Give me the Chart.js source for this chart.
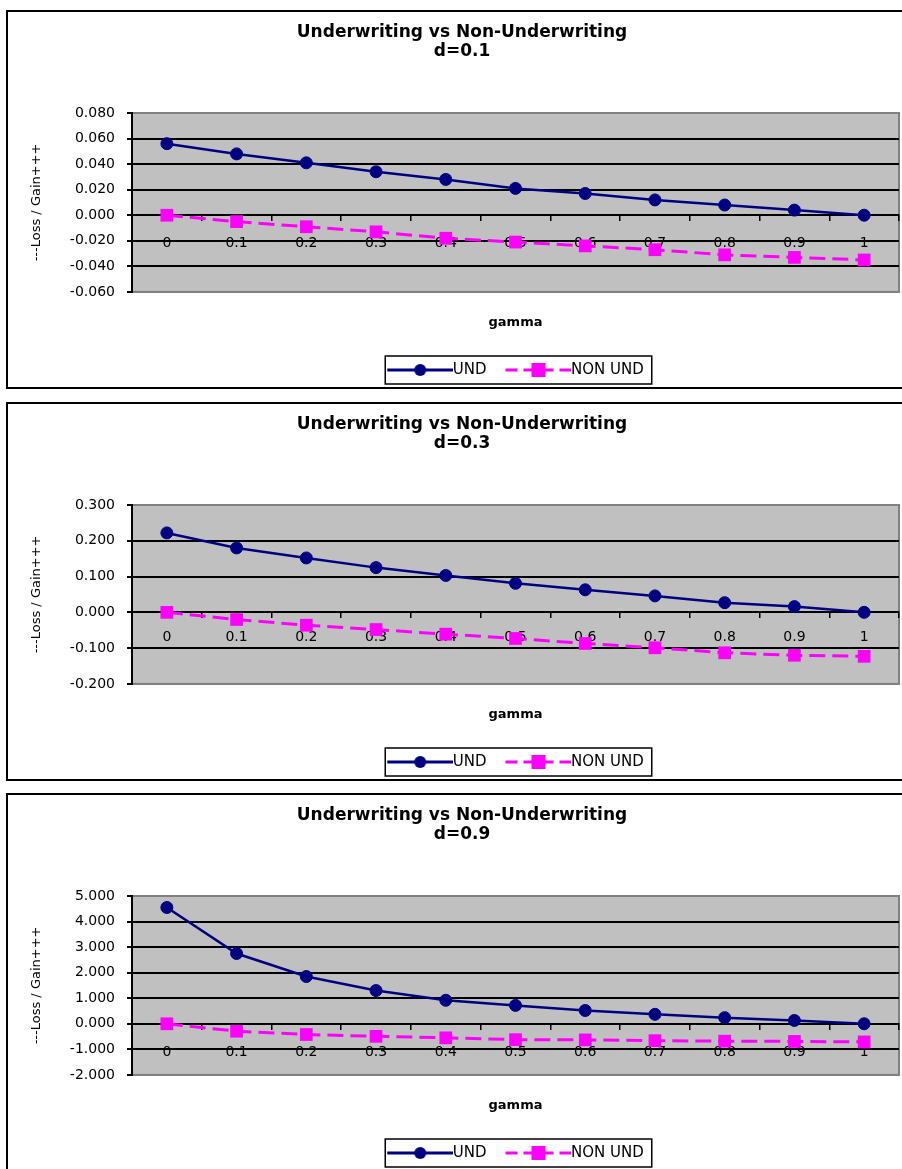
<!DOCTYPE html>
<html><head><meta charset="utf-8">
<script src="https://cdn.jsdelivr.net/npm/chart.js@4/dist/chart.umd.min.js"></script>
<style>
html,body{margin:0;padding:0;background:#fff;width:902px;height:1169px;overflow:hidden;}
.box{position:absolute;left:6px;width:914px;height:379px;border:2px solid #000;box-sizing:border-box;}
.wrap{position:absolute;left:0;top:0;width:910px;height:390px;}
</style></head><body>
<div class="box" style="top:10px"><div class="wrap"><canvas id="c1"></canvas></div></div>
<div class="box" style="top:402px"><div class="wrap"><canvas id="c2"></canvas></div></div>
<div class="box" style="top:793px"><div class="wrap"><canvas id="c3"></canvas></div></div>
<script>
// ---- data ----
const gammaLabels = ['0', '0.1', '0.2', '0.3', '0.4', '0.5', '0.6', '0.7', '0.8', '0.9', '1'];
const seriesNames = ['UND', 'NON UND'];
const chartTitle = 'Underwriting vs Non-Underwriting';
const dLabels = ['d=0.1', 'd=0.3', 'd=0.9'];
const xTitle = 'gamma';
const yTitle = '---Loss / Gain+++';

const undD01 = [0.056, 0.048, 0.041, 0.034, 0.028, 0.021, 0.017, 0.012, 0.008, 0.004, 0.000];
const nonD01 = [0.000, -0.005, -0.009, -0.013, -0.018, -0.021, -0.024, -0.027, -0.031, -0.033, -0.035];
const undD03 = [0.222, 0.180, 0.152, 0.125, 0.103, 0.081, 0.063, 0.046, 0.027, 0.016, 0.000];
const nonD03 = [0.000, -0.020, -0.036, -0.048, -0.061, -0.073, -0.087, -0.099, -0.113, -0.120, -0.123];
const undD09 = [4.55, 2.75, 1.85, 1.30, 0.92, 0.72, 0.52, 0.37, 0.24, 0.13, 0.00];
const nonD09 = [0.00, -0.29, -0.42, -0.49, -0.55, -0.62, -0.63, -0.66, -0.68, -0.69, -0.71];

const yRangeD01 = [-0.06, 0.08, 0.02];
const yRangeD03 = [-0.2, 0.3, 0.1];
const yRangeD09 = [-2, 5, 1];

// ---- styling helpers ----
Chart.defaults.font.family = "'DejaVu Sans', sans-serif";
Chart.defaults.color = '#000';

const UND_COLOR = '#000080';
const NON_COLOR = '#ff00ff';

function makeIcon(color, dash, marker) {
  const c = document.createElement('canvas');
  c.width = 74; c.height = 16;
  const g = c.getContext('2d');
  g.strokeStyle = color; g.lineWidth = 3; g.setLineDash(dash);
  g.beginPath(); g.moveTo(8, 8); g.lineTo(74, 8); g.stroke();
  g.setLineDash([]); g.fillStyle = color;
  if (marker === 'circle') { g.beginPath(); g.arc(41, 8, 6, 0, 2 * Math.PI); g.fill(); }
  else { g.fillRect(34, 1, 14, 14); }
  return c;
}
const legendIcons = [makeIcon(UND_COLOR, [], 'circle'), makeIcon(NON_COLOR, [12, 6], 'rect')];

const frame = {
  id: 'frame',
  beforeDraw(chart) {
    const {ctx, chartArea: a} = chart;
    ctx.save();
    ctx.fillStyle = '#c0c0c0';
    ctx.fillRect(a.left, a.top, a.right - a.left, a.bottom - a.top);
    ctx.strokeStyle = '#808080'; ctx.lineWidth = 2;
    ctx.strokeRect(a.left, a.top, a.right - a.left, a.bottom - a.top);
    ctx.restore();
  },
  afterDraw(chart) {
    const lg = chart.legend;
    if (!lg || !lg.legendHitBoxes || !lg.legendHitBoxes.length) return;
    let l = Infinity, r = -Infinity, t = Infinity, b = -Infinity;
    lg.legendHitBoxes.forEach(h => {
      l = Math.min(l, h.left); r = Math.max(r, h.left + h.width);
      t = Math.min(t, h.top); b = Math.max(b, h.top + h.height);
    });
    const ctx = chart.ctx;
    ctx.save();
    ctx.strokeStyle = '#000'; ctx.lineWidth = 1.5;
    ctx.strokeRect(l - 2, t - 6.5, r - l + 10, b - t + 13);
    ctx.restore();
  }
};

function makeChart(id, dLabel, und, non, yRange, xPad) {
  const [yMin, yMax, yStep] = yRange;
  return new Chart(document.getElementById(id), {
    type: 'line',
    data: {
      labels: gammaLabels,
      datasets: [
        { label: seriesNames[0], data: und, borderColor: UND_COLOR, backgroundColor: UND_COLOR,
          borderWidth: 2.5, pointStyle: 'circle', pointRadius: 6, pointBorderWidth: 1,
          pointBackgroundColor: UND_COLOR, pointBorderColor: UND_COLOR, tension: 0 },
        { label: seriesNames[1], data: non, borderColor: NON_COLOR, backgroundColor: NON_COLOR,
          borderWidth: 3, borderDash: [16, 7], pointStyle: 'rect', pointRadius: 9, pointBorderWidth: 0,
          pointBackgroundColor: NON_COLOR, pointBorderColor: NON_COLOR, tension: 0 }
      ]
    },
    options: {
      responsive: true, maintainAspectRatio: false, animation: false, devicePixelRatio: 1, events: [],
      layout: { padding: { left: 17, right: 19, top: 0, bottom: 14.5 } },
      plugins: {
        tooltip: { enabled: false },
        title: { display: true, text: [chartTitle, dLabel], color: '#000',
          font: { size: 17, weight: 'bold', lineHeight: 19 / 17 }, padding: { top: 11.5, bottom: 51.5 } },
        subtitle: { display: true, position: 'bottom', fullSize: false, text: xTitle, color: '#000',
          font: { size: 13, weight: 'bold', lineHeight: 1.2 }, padding: { top: 23, bottom: 13 } },
        legend: { position: 'bottom', fullSize: false, weight: 3000,
          labels: { usePointStyle: true, pointStyleWidth: 58, padding: 19, color: '#000', font: { size: 15 },
            generateLabels(chart) {
              const items = Chart.defaults.plugins.legend.labels.generateLabels(chart);
              items.forEach((it, i) => { it.pointStyle = legendIcons[i]; it.fontColor = '#000'; });
              return items;
            } } }
      },
      scales: {
        x: { type: 'category', position: { y: 0 }, offset: true,
          grid: { display: true, drawOnChartArea: false, drawTicks: true, tickLength: 5, tickColor: '#000', offset: true, lineWidth: 1.5 },
          border: { display: true, color: '#000', width: 2 },
          ticks: { color: '#000', font: { size: 14 }, padding: xPad, maxRotation: 0, autoSkip: false } },
        y: { min: yMin, max: yMax,
          ticks: { stepSize: yStep, color: '#000', font: { size: 14 }, padding: 12, callback: v => Number(v).toFixed(3) },
          grid: { color: c => (c.index === 0 || (c.scale && c.index === c.scale.ticks.length - 1)) ? '#808080' : '#000',
            lineWidth: 2, tickColor: '#000', tickLength: 5, drawTicks: true },
          border: { display: true, color: '#000', width: 2 },
          title: { display: true, text: yTitle, color: '#000', font: { size: 13 }, padding: { top: 4, bottom: 4 } },
          afterFit(s) { s.width = 107; } }
      }
    },
    plugins: [frame]
  });
}

makeChart('c1', dLabels[0], undD01, nonD01, yRangeD01, 15);
makeChart('c2', dLabels[1], undD03, nonD03, yRangeD03, 12);
makeChart('c3', dLabels[2], undD09, nonD09, yRangeD09, 15);
</script>
</body></html>
